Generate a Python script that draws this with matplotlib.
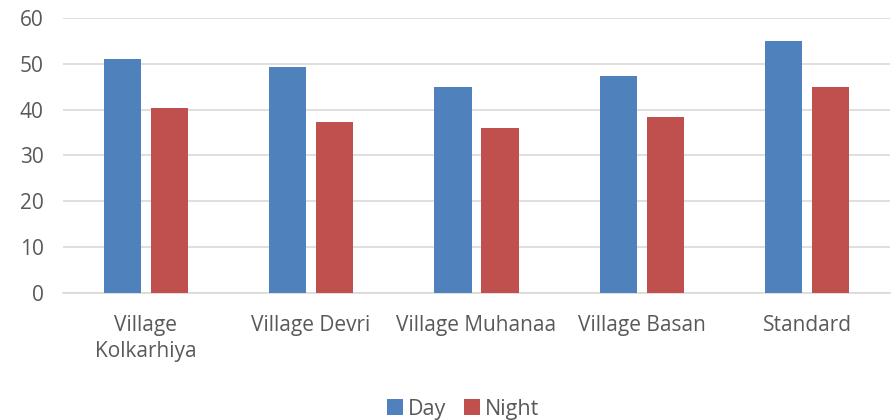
import numpy as np
import matplotlib
matplotlib.use("Agg")
import matplotlib.pyplot as plt

# values
categories = ["Village\nKolkarhiya", "Village Devri", "Village Muhanaa", "Village Basan", "Standard"]
day = [51.0, 49.3, 45.0, 47.3, 55.0]
night = [40.3, 37.3, 36.0, 38.3, 45.0]
yticks = [0, 10, 20, 30, 40, 50, 60]

plt.rcParams['font.family'] = ['Open Sans', 'DejaVu Sans']

fig = plt.figure(figsize=(8.94, 4.2), dpi=100)
ax = fig.add_axes([0.0705, 0.303, 0.925, 0.654])

x = np.arange(len(categories))
w = 0.224
off = 0.142
ax.bar(x - off, day, w, color="#4F81BD", label="Day", zorder=3)
ax.bar(x + off, night, w, color="#C0504D", label="Night", zorder=3)

ax.set_xlim(-0.5, len(categories) - 0.5)
ax.set_ylim(0, 60)
ax.set_yticks(yticks)
ax.yaxis.grid(True, color="#D9D9D9", linewidth=1.2, zorder=0)
for s in ["top", "right", "left"]:
    ax.spines[s].set_visible(False)
ax.spines["bottom"].set_color("#D9D9D9")
ax.spines["bottom"].set_linewidth(1.2)
ax.tick_params(length=0, labelsize=15, labelcolor="#595959")
ax.tick_params(axis="y", pad=14)
ax.tick_params(axis="x", pad=16)
ax.set_xticks(x)
ax.set_xticklabels(categories, linespacing=1.3)

leg = fig.legend(loc="lower center", bbox_to_anchor=(0.518, -0.045), ncol=2, frameon=False,
                 fontsize=15.5, handlelength=0.75, handleheight=0.75, handletextpad=0.22,
                 columnspacing=0.8)
for t in leg.get_texts():
    t.set_color("#595959")

fig.savefig("out.png", dpi=100)
